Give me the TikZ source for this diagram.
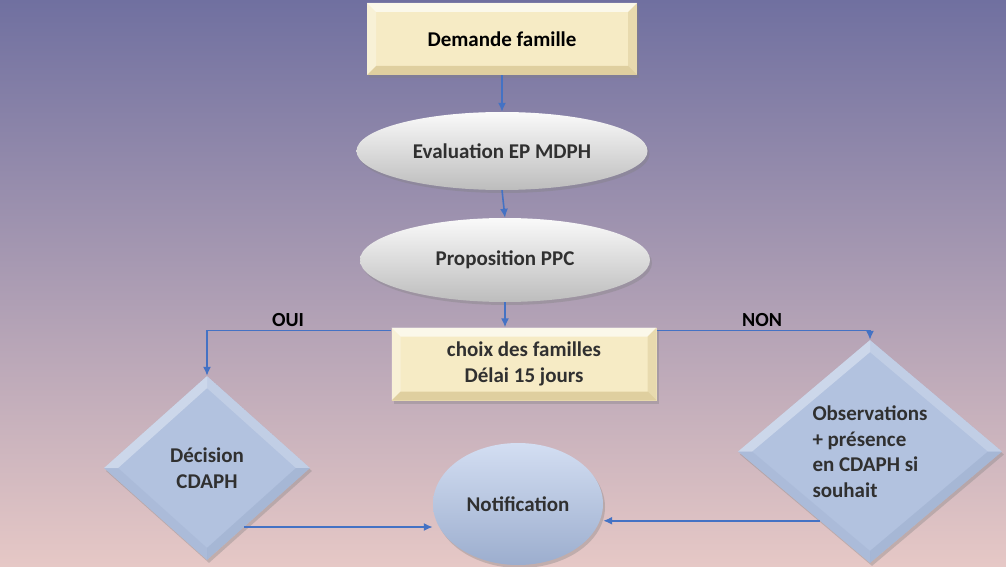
\documentclass[tikz,border=0pt]{standalone}
\usepackage{fontspec}
\setmainfont{Carlito}
\usetikzlibrary{shapes.geometric,shadows,calc,arrows.meta}
\definecolor{bgtop}{HTML}{7070A0}
\definecolor{bgmid}{HTML}{ABA6CC}
\definecolor{bgbot}{HTML}{E6C8C6}
\definecolor{boxfill}{HTML}{F6EBC5}
\definecolor{boxdark}{HTML}{C9B57A}
\definecolor{lineblue}{HTML}{4472C4}
\definecolor{txtgray}{HTML}{303030}
\definecolor{dfill}{HTML}{B2C2DF}
\definecolor{dlight}{HTML}{D3DEF2}
\definecolor{ddark}{HTML}{98AACB}
\tikzset{
  txt/.style={font=\fontsize{21}{25.5}\selectfont\bfseries, text=txtgray},
  conn/.style={draw=lineblue, line width=1.6pt, -{Latex[length=9pt,width=8pt]}},
  softshadow/.style={drop shadow={opacity=0.35, shadow xshift=2pt, shadow yshift=-3pt}},
  bevelbox/.style={rectangle, txt, fill=boxfill, inner sep=0pt, softshadow,
    path picture={
      \coordinate (pNW) at (path picture bounding box.north west);
      \coordinate (pNE) at (path picture bounding box.north east);
      \coordinate (pSW) at (path picture bounding box.south west);
      \coordinate (pSE) at (path picture bounding box.south east);
      \fill[white,opacity=.65] (pNW) -- (pNE) -- ($(pNE)+(-9,-9)$) -- ($(pNW)+(9,-9)$) -- cycle;
      \fill[white,opacity=.3] (pNW) -- ($(pNW)+(9,-9)$) -- ($(pSW)+(9,9)$) -- (pSW) -- cycle;
      \fill[boxdark,opacity=.3] (pNE) -- ($(pNE)+(-9,-9)$) -- ($(pSE)+(-9,9)$) -- (pSE) -- cycle;
      \fill[boxdark,opacity=.5] (pSW) -- ($(pSW)+(9,9)$) -- ($(pSE)+(-9,9)$) -- (pSE) -- cycle;
    }},
  grayell/.style={ellipse, txt, inner sep=0pt, softshadow,
    top color=white!96!gray, middle color=gray!26, bottom color=gray!52},
  bevdiam/.style={diamond, txt, inner sep=0pt, fill=dfill, softshadow,
    path picture={
      \coordinate (pT) at (path picture bounding box.north);
      \coordinate (pB) at (path picture bounding box.south);
      \coordinate (pL) at (path picture bounding box.west);
      \coordinate (pR) at (path picture bounding box.east);
      \fill[white,opacity=.35] (pT) -- (pL) -- ($(pL)+(14,0)$) -- ($(pT)+(0,-12)$) -- cycle;
      \fill[white,opacity=.2] (pT) -- (pR) -- ($(pR)+(-14,0)$) -- ($(pT)+(0,-12)$) -- cycle;
      \fill[ddark,opacity=.25] (pB) -- (pL) -- ($(pL)+(14,0)$) -- ($(pB)+(0,12)$) -- cycle;
      \fill[ddark,opacity=.45] (pB) -- (pR) -- ($(pR)+(-14,0)$) -- ($(pB)+(0,12)$) -- cycle;
    }},
  blueell/.style={ellipse, txt, inner sep=0pt, softshadow,
    top color=dlight, middle color=dfill, bottom color=ddark!85!dfill},
  lbl/.style={font=\fontsize{20}{22}\selectfont\bfseries, text=black}
}
\begin{document}
\begin{tikzpicture}[x=1pt,y=1pt]
\shade[top color=bgtop, middle color=bgmid, bottom color=bgbot] (0,0) rectangle (1006,566);
\useasboundingbox (0,0) rectangle (1006,566);

\node[bevelbox, minimum width=270pt, minimum height=72pt, text=black] (dem) at (502,527) {Demande famille};
\node[grayell, minimum width=291pt, minimum height=78pt] (eval) at (502,415) {Evaluation EP MDPH};
\node[grayell, minimum width=290pt, minimum height=84pt] (prop) at (505,306) {Proposition PPC};
\node[bevelbox, minimum width=265pt, minimum height=73pt, align=center] (choix) at (524,202) {choix des familles\\Délai 15 jours};
\node[bevdiam, minimum width=206pt, minimum height=184pt, align=center] (dl) at (207,98) {Décision\\CDAPH};
\node[bevdiam, minimum width=264pt, minimum height=223pt, align=left] (dr) at (870,114.5) {Observations\\+ présence\\en CDAPH si\\souhait};
\node[blueell, minimum width=170pt, minimum height=122pt] (notif) at (518,62) {Notification};

\draw[conn] (dem.south) -- (eval.north);
\draw[conn] (eval.south) -- (prop.north);
\draw[conn] (prop.south) -- (prop.south |- choix.north);

\coordinate (cw) at ([yshift=-3pt]choix.north west);
\coordinate (ce) at ([yshift=-3pt]choix.north east);
\draw[conn] (cw) -| (dl.north);
\draw[conn] (ce) -| (dr.north);
\node[lbl] (oui) at (288,246) {OUI};
\node[lbl] (non) at (762,246) {NON};

\path (dl.south) -- (dl.east) coordinate[pos=0.36] (dlo);
\path (dr.south) -- (dr.west) coordinate[pos=0.38] (dro);
\draw[conn] (dlo) -- (dlo -| notif.west);
\draw[conn] (dro) -- (dro -| notif.east);
\end{tikzpicture}
\end{document}
